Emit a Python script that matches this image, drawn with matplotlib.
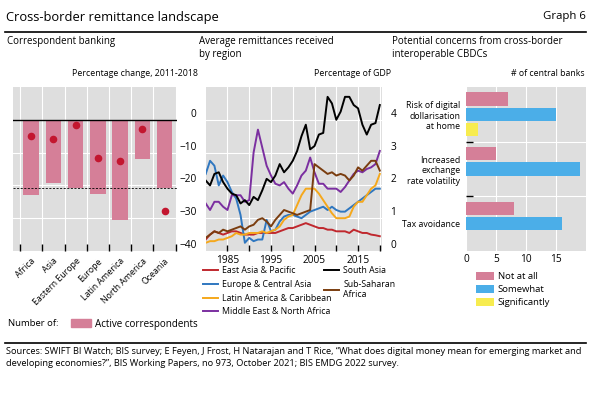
import matplotlib
matplotlib.use("Agg")
import matplotlib.pyplot as plt
import numpy as np
from matplotlib.lines import Line2D
from matplotlib.patches import Patch

plt.rcParams['font.family'] = ['Open Sans', 'DejaVu Sans']

# Left panel: correspondent banking
countries = ["Africa", "Asia", "Eastern Europe", "Europe", "Latin America", "North America", "Oceania"]
active_corr = [-22.8, -19.3, -20.8, -22.5, -30.5, -12.1, -20.8]
dots = [-5.0, -5.9, -1.5, -11.6, -12.5, -2.7, -27.7]
avg_line = -20.8

# Middle panel: remittances by region, 1980-2020
years = list(range(1980, 2021))
east_asia = [0.35, 0.5, 0.6, 0.55, 0.5, 0.55, 0.6, 0.6, 0.55, 0.5, 0.5, 0.5, 0.55, 0.55, 0.55, 0.55,
             0.55, 0.6, 0.65, 0.7, 0.7, 0.75, 0.8, 0.85, 0.8, 0.75, 0.7, 0.7, 0.65, 0.65, 0.6, 0.6,
             0.6, 0.55, 0.65, 0.6, 0.55, 0.55, 0.5, 0.48, 0.45]
europe_ca = [2.35, 2.75, 2.6, 2.0, 2.3, 2.1, 1.8, 1.6, 1.1, 0.25, 0.4, 0.3, 0.35, 0.35, 0.95, 0.6,
             0.65, 0.9, 1.05, 1.1, 1.1, 1.05, 1.0, 1.1, 1.2, 1.25, 1.3, 1.35, 1.25, 1.35, 1.25, 1.2,
             1.2, 1.3, 1.4, 1.5, 1.6, 1.7, 1.8, 1.9, 1.9]
latam = [0.25, 0.3, 0.3, 0.35, 0.35, 0.4, 0.45, 0.55, 0.5, 0.5, 0.55, 0.55, 0.55, 0.6, 0.55, 0.6,
         0.65, 0.75, 0.95, 1.05, 1.1, 1.4, 1.7, 1.9, 1.9, 1.9, 1.75, 1.55, 1.35, 1.15, 1.0, 1.0,
         1.0, 1.05, 1.35, 1.5, 1.5, 1.7, 1.9, 2.0, 2.35]
mena = [1.45, 1.25, 1.5, 1.5, 1.35, 1.25, 1.7, 1.7, 1.7, 1.5, 1.55, 3.0, 3.7, 3.15, 2.6, 2.3,
        2.05, 2.0, 2.1, 1.9, 1.75, 2.0, 2.3, 2.45, 2.85, 2.4, 2.05, 2.05, 1.9, 1.9, 1.9, 1.8,
        1.95, 2.15, 2.35, 2.45, 2.4, 2.5, 2.55, 2.65, 3.05]
south_asia = [2.15, 2.0, 2.35, 2.4, 2.1, 1.9, 1.75, 1.7, 1.45, 1.55, 1.4, 1.65, 1.55, 1.85, 2.2, 2.1,
              2.3, 2.65, 2.4, 2.55, 2.75, 3.05, 3.5, 3.85, 3.1, 3.2, 3.55, 3.6, 4.7, 4.5, 4.0, 4.25,
              4.7, 4.7, 4.45, 4.35, 3.85, 3.55, 3.85, 3.9, 4.45]
ssa = [0.4, 0.5, 0.6, 0.55, 0.65, 0.6, 0.65, 0.7, 0.75, 0.65, 0.75, 0.8, 0.95, 1.0, 0.9, 0.75,
       0.95, 1.1, 1.25, 1.2, 1.15, 1.1, 1.15, 1.2, 1.25, 2.65, 2.55, 2.45, 2.35, 2.4, 2.3, 2.35,
       2.3, 2.15, 2.3, 2.55, 2.45, 2.6, 2.75, 2.75, 2.45]

# Right panel: concerns about cross-border CBDCs
concerns = ["Risk of digital\ndollarisation\nat home", "Increased\nexchange\nrate volatility", "Tax avoidance"]
not_at_all = [7, 5, 8]
somewhat = [15, 19, 16]
significantly = [2, 0, 0]

bg = '#dedede'
pink = '#d57f98'
blue = '#4baee8'
yellow = '#f7ec4f'
dotred = '#c3162f'

fig = plt.figure(figsize=(6, 3.95), dpi=100)
H = 395.0


def fx(x):
    return x / 600.0


def fy(y):
    return 1 - y / H


def box(x0, x1, y0=87, y1=251):
    return [fx(x0), fy(y1), fx(x1) - fx(x0), (y1 - y0) / H]


# header / footer
fig.text(fx(6), fy(17), "Cross-border remittance landscape", fontsize=9.3, va='center')
fig.text(fx(586), fy(17), "Graph 6", fontsize=8.2, va='center', ha='right')
fig.add_artist(Line2D([fx(5), fx(586)], [fy(32), fy(32)], color='black', lw=1.2))
fig.add_artist(Line2D([fx(5), fx(586)], [fy(343), fy(343)], color='black', lw=1.2))
fig.text(fx(6), fy(347), "Sources: SWIFT BI Watch; BIS survey; E Feyen, J Frost, H Natarajan and T Rice, "
         "\u201cWhat does digital money mean for emerging market and\ndeveloping economies?\u201d, "
         "BIS Working Papers, no 973, October 2021; BIS EMDG 2022 survey.",
         fontsize=6.7, va='top', linespacing=1.5)

# panel titles
fig.text(fx(7), fy(36), "Correspondent banking", fontsize=7.0, va='top')
fig.text(fx(199), fy(36), "Average remittances received\nby region", fontsize=7.0, va='top', linespacing=1.3)
fig.text(fx(392), fy(36), "Potential concerns from cross-border\ninteroperable CBDCs", fontsize=7.0,
         va='top', linespacing=1.3)
fig.text(fx(198), fy(74), "Percentage change, 2011-2018", fontsize=6.3, va='center', ha='right')
fig.text(fx(391), fy(74), "Percentage of GDP", fontsize=6.3, va='center', ha='right')
fig.text(fx(585), fy(74), "# of central banks", fontsize=6.3, va='center', ha='right')

# ---- panel 1
ax1 = fig.add_axes(box(12.7, 177))
ax1.set_facecolor(bg)
x = np.arange(len(countries))
ax1.bar(x, active_corr, width=0.7, color=pink, zorder=2)
ax1.scatter(x, dots, s=20, color=dotred, zorder=3)
ax1.axhline(0, color='black', lw=1, zorder=3)
ax1.axhline(avg_line, color='black', lw=0.6, ls=(0, (2.5, 1.8)), zorder=3)
ax1.set_xlim(-0.83, 6.56)
ax1.set_ylim(-40, 10)
ax1.set_yticks([-40, -30, -20, -10, 0])
ax1.set_yticklabels(["\u221240", "\u221230", "\u221220", "\u221210", "0"])
ax1.yaxis.tick_right()
ax1.tick_params(axis='y', length=0, pad=14, labelsize=7.3)
plt.setp(ax1.get_yticklabels(), va='bottom', ha='right')
ax1.set_xticks(x)
ax1.set_xticklabels(countries, rotation=45, ha='right', rotation_mode='anchor', fontsize=6.3)
ax1.set_xticks(np.arange(-0.5, 7, 1), minor=True)
ax1.tick_params(axis='x', which='major', length=0, pad=4)
ax1.tick_params(axis='x', which='minor', direction='in', length=5, width=1, color='black')
ax1.grid(True, which='minor', axis='x', color='white', lw=0.8)
ax1.grid(True, which='major', axis='y', color='white', lw=0.8)
ax1.set_axisbelow(True)
for s in ax1.spines.values():
    s.set_visible(False)

# ---- panel 2
ax2 = fig.add_axes(box(205.7, 382))
ax2.set_facecolor(bg)
series = [
    ("East Asia & Pacific", east_asia, '#c0282e'),
    ("Europe & Central Asia", europe_ca, '#2f77c0'),
    ("Latin America & Caribbean", latam, '#f5a81c'),
    ("Middle East & North Africa", mena, '#7b2fa0'),
    ("South Asia", south_asia, 'black'),
    ("Sub-Saharan\nAfrica", ssa, '#7a3d0f'),
]
handles = []
for name, vals, col in series:
    ln, = ax2.plot(years, vals, color=col, lw=1.4, label=name)
    handles.append(ln)
ax2.set_xlim(1980, 2020.5)
ax2.set_ylim(0, 5)
ax2.set_yticks([0, 1, 2, 3, 4])
ax2.yaxis.tick_right()
ax2.tick_params(axis='y', length=0, pad=6, labelsize=7.3)
plt.setp(ax2.get_yticklabels(), va='bottom')
ax2.set_xticks([1985, 1995, 2005, 2015])
ax2.set_xticks([1990, 2000, 2010, 2020], minor=True)
ax2.tick_params(axis='x', which='both', direction='in', length=4, width=1, color='black', labelsize=7.3, pad=3)
ax2.grid(True, which='both', axis='x', color='white', lw=0.8)
ax2.grid(True, which='major', axis='y', color='white', lw=0.8)
ax2.set_axisbelow(True)
for s in ax2.spines.values():
    s.set_visible(False)

leg_kw = dict(loc='upper left', frameon=False, fontsize=6.3, handlelength=1.7, handletextpad=0.5,
              labelspacing=0.55, borderpad=0, borderaxespad=0)
fig.legend(handles[:4], [s[0] for s in series[:4]], bbox_to_anchor=(fx(203), fy(266)), **leg_kw)
fig.legend(handles[4:], [s[0] for s in series[4:]], bbox_to_anchor=(fx(324), fy(266)), **leg_kw)

# ---- panel 3
ax3 = fig.add_axes(box(466, 586))
ax3.set_facecolor(bg)
yc = np.arange(len(concerns))
h = 0.24
ax3.barh(yc - 0.28, not_at_all, height=h, color=pink, label="Not at all", zorder=2)
ax3.barh(yc, somewhat, height=h, color=blue, label="Somewhat", zorder=2)
ax3.barh(yc + 0.28, significantly, height=h, color=yellow, label="Significantly", zorder=2)
ax3.set_xlim(0, 20)
ax3.set_ylim(2.5, -0.5)
ax3.set_xticks([0, 5, 10, 15])
ax3.set_yticks(yc)
ax3.set_yticklabels(concerns, fontsize=6.3, ha='right', linespacing=1.2)
ax3.set_yticks([0.5, 1.5], minor=True)
ax3.tick_params(axis='y', which='major', length=0, pad=4)
ax3.tick_params(axis='y', which='minor', direction='in', length=5, width=1, color='black')
ax3.tick_params(axis='x', length=0, labelsize=7.3, pad=2)
ax3.grid(True, which='major', axis='x', color='white', lw=0.8)
ax3.grid(True, which='minor', axis='y', color='white', lw=0.8)
ax3.set_axisbelow(True)
for s in ax3.spines.values():
    s.set_visible(False)
fig.legend(*ax3.get_legend_handles_labels(), loc='upper left', bbox_to_anchor=(fx(476), fy(272)),
           frameon=False, fontsize=6.8, handlelength=1.9, handleheight=0.9, handletextpad=0.4,
           labelspacing=0.42, borderpad=0, borderaxespad=0)

# panel 1 legend
fig.text(fx(8), fy(324), "Number of:", fontsize=6.8, va='center')
fig.legend([Patch(color=pink)], ["Active correspondents"], loc='center left',
           bbox_to_anchor=(fx(71), fy(324)), frameon=False, fontsize=7.1, handlelength=2.0,
           handleheight=0.9, handletextpad=0.4, borderpad=0, borderaxespad=0)

fig.savefig("out.png", dpi=100)
